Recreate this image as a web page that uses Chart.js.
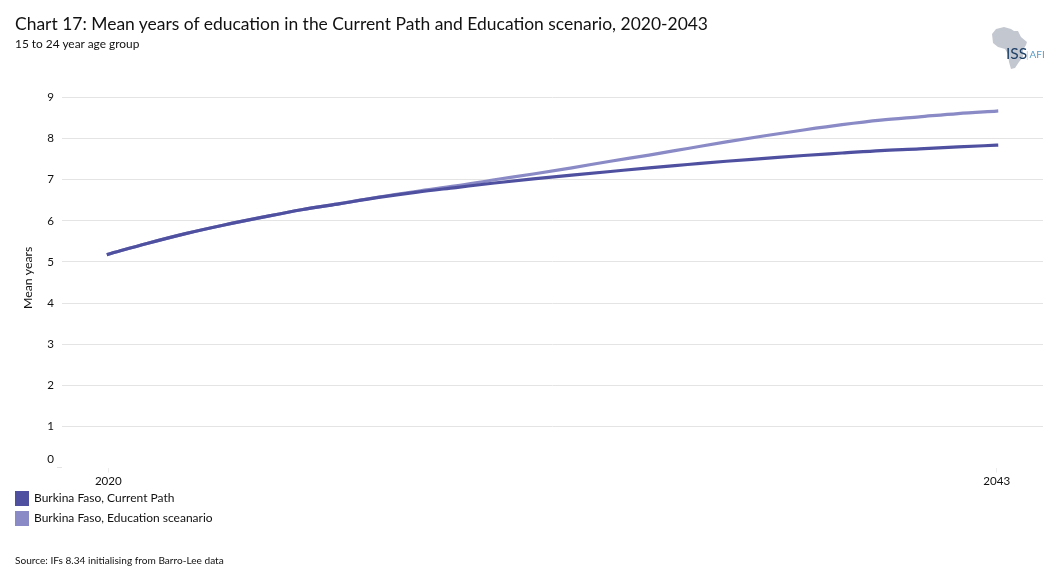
<!DOCTYPE html>
<html lang="en">

<head>
    <meta charset="UTF-8">
    <script src="https://cdn.jsdelivr.net/npm/chart.js"></script>
    <title>Chart 17: Mean years of education</title>
    <style>
        html, body { margin: 0; padding: 0; background: #fff; }
        body { width: 1055px; height: 584px; position: relative; overflow: hidden; font-family: Lato, "Open Sans", sans-serif; color: #111; }
        #myChart { position: absolute; left: 0; top: 0; }
        .txt { position: absolute; white-space: nowrap; }
        #title { left: 15px; top: 11.5px; font-size: 17.47px; line-height: 24px; }
        #subtitle { left: 15px; top: 36px; font-size: 11.9px; line-height: 15px; }
        #source { left: 15px; top: 552.5px; font-size: 10.1px; line-height: 14px; }
        .swatch { position: absolute; left: 15px; width: 14px; height: 15px; }
        .legend-label { left: 34px; font-size: 12px; line-height: 15px; }
        #logo { position: absolute; left: 985px; top: 22px; }
    </style>
    <script>
        const years = [2020, 2021, 2022, 2023, 2024, 2025, 2026, 2027, 2028, 2029, 2030, 2031,
            2032, 2033, 2034, 2035, 2036, 2037, 2038, 2039, 2040, 2041, 2042, 2043];
        const currentPath = [5.19, 5.45, 5.69, 5.90, 6.09, 6.27, 6.42, 6.57, 6.70, 6.81, 6.92, 7.02,
            7.11, 7.20, 7.29, 7.37, 7.45, 7.52, 7.59, 7.65, 7.71, 7.75, 7.80, 7.84];
        const educationScenario = [5.19, 5.45, 5.69, 5.90, 6.09, 6.27, 6.42, 6.58, 6.72, 6.85, 7.00, 7.14,
            7.29, 7.45, 7.60, 7.76, 7.92, 8.07, 8.21, 8.34, 8.45, 8.53, 8.61, 8.67];
        const seriesNames = ['Burkina Faso, Current Path', 'Burkina Faso, Education sceanario'];
        const seriesColors = ['#4f50a0', '#8a8ac6'];
        const yTicks = [0, 1, 2, 3, 4, 5, 6, 7, 8, 9];
        const xTicks = [2020, 2043];

        window.addEventListener('DOMContentLoaded', function () {
            // legend
            seriesNames.forEach(function (name, i) {
                const sw = document.createElement('div');
                sw.className = 'swatch';
                sw.style.top = (491 + i * 20) + 'px';
                sw.style.background = seriesColors[i];
                document.body.appendChild(sw);
                const lb = document.createElement('div');
                lb.className = 'txt legend-label';
                lb.style.top = (490 + i * 20) + 'px';
                lb.textContent = name;
                document.body.appendChild(lb);
            });

            const ctx = document.getElementById('myChart');
            const config = {
                type: 'line',
                data: {
                    datasets: [
                        { label: seriesNames[0], data: years.map((y, i) => ({ x: y, y: currentPath[i] })), borderColor: seriesColors[0] },
                        { label: seriesNames[1], data: years.map((y, i) => ({ x: y, y: educationScenario[i] })), borderColor: seriesColors[1] }
                    ]
                },
                options: {
                    responsive: false,
                    animation: false,
                    cubicInterpolationMode: 'monotone',
                    layout: { padding: { left: 21, right: 12, top: 97.5, bottom: 93.5 } },
                    elements: { line: { borderWidth: 3.2, borderCapStyle: 'square' }, point: { radius: 0 } },
                    scales: {
                        x: {
                            type: 'linear',
                            // the years sit about 46px in from the ends of the gridlines
                            min: 2018.8,
                            max: 2044.2,
                            afterBuildTicks: function (axis) {
                                axis.ticks = xTicks.map(v => ({ value: v }));
                            },
                            border: { display: false },
                            grid: { drawOnChartArea: false, color: '#ececec', tickLength: 5 },
                            ticks: {
                                autoSkip: false,
                                maxRotation: 0,
                                padding: 2,
                                color: '#111',
                                font: { family: 'Lato', size: 11.6 },
                                callback: v => String(v)
                            }
                        },
                        y: {
                            min: 0,
                            max: 9,
                            afterBuildTicks: function (axis) {
                                axis.ticks = yTicks.map(v => ({ value: v }));
                            },
                            afterFit: function (axis) { axis.width = 41; },
                            border: { display: false },
                            grid: {
                                color: c => c.tick.value === 0 ? 'rgba(0,0,0,0)' : '#e4e4e4',
                                tickColor: c => c.tick.value === 0 ? '#e4e4e4' : 'rgba(0,0,0,0)',
                                tickLength: 5
                            },
                            title: {
                                display: true,
                                // leading spaces nudge it up, it is not centred on the plot in the original
                                text: '   Mean years',
                                color: '#111',
                                padding: 0,
                                font: { family: 'Lato', size: 12.3 }
                            },
                            ticks: {
                                autoSkip: false,
                                padding: 3,
                                color: '#111',
                                font: { family: 'Lato', size: 11.6, lineHeight: 1.45 },
                                // the 0 label sits a little above its tick in the original
                                callback: v => v === 0 ? ['0', ''] : String(v)
                            }
                        }
                    },
                    plugins: {
                        legend: { display: false },
                        tooltip: { enabled: false }
                    }
                }
            };
            new Chart(ctx, config);
        });
    </script>
</head>

<body>
    <canvas id="myChart" width="1055" height="584"></canvas>
    <div class="txt" id="title">Chart 17: Mean years of education in the Current Path and Education scenario, 2020-2043</div>
    <div class="txt" id="subtitle">15 to 24 year age group</div>
    <div class="txt" id="source">Source: IFs 8.34 initialising from Barro-Lee data</div>
    <svg id="logo" width="62" height="50" viewBox="985 22 62 50">
        <path d="M992 34 L996 29 L1004 27 L1011 29 L1014 31 L1018 31 L1021 37 L1027 42 L1026 45 L1023 50 L1023 57 L1019 62 L1015 68 L1011 69 L1009 62 L1008 54 L1005 49 L998 47 L993 43 Z" fill="#c3c8d0"/>
        <text x="1006" y="59" font-family="Lato" font-size="15.5" fill="#1d3f66">ISS</text>
        <text x="1026" y="58" font-family="Lato" font-size="10" fill="#a9cbe0">|</text>
        <text x="1029.5" y="58" font-family="Lato" font-size="10" fill="#5a9cc5">AFI</text>
    </svg>
</body>

</html>
